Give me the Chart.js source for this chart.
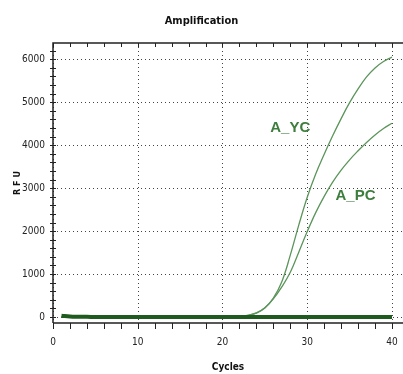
<!DOCTYPE html>
<html lang="en">
<head>
  <meta charset="UTF-8">
  <title>Amplification</title>
  <script src="https://cdn.jsdelivr.net/npm/chart.js"></script>
  <style>
    html, body { margin: 0; padding: 0; background: #fff; }
    .wrap { width: 403px; height: 374px; position: relative; }
  </style>
</head>
<body>
  <div class="wrap"><canvas id="amp" width="403" height="374"></canvas></div>
  <script>
    // cycles 1..40
    const cycles = Array.from({length: 40}, (_, i) => i + 1);
    const ycValues = [5, 4, 4, 3, 3, 3, 3, 3, 3, 3, 3, 3, 3, 3, 3, 3, 4, 5, 6, 8,
      10, 15, 40, 90, 210, 440, 820, 1440, 2140, 2790, 3330, 3790, 4220, 4620, 4990, 5310, 5590, 5800, 5950, 6050];
    const pcValues = [5, 4, 4, 3, 3, 3, 3, 3, 3, 3, 3, 3, 3, 3, 3, 3, 4, 5, 6, 8,
      10, 15, 40, 95, 215, 420, 700, 1040, 1510, 1990, 2430, 2810, 3140, 3420, 3660, 3870, 4065, 4240, 4390, 4510];
    const baseValues = [30, 12, 6, 3, 0, 0, 0, 0, 0, 0, 0, 0, 0, 0, 0, 0, 0, 0, 0, 0,
      0, 0, 0, 0, 0, 0, 0, 0, 0, 0, 0, 0, 0, 0, 0, 0, 0, 0, 0, 0];
    const xTicks = [0, 10, 20, 30, 40];
    const yTicks = [0, 1000, 2000, 3000, 4000, 5000, 6000];
    const labels = [
      {text: 'A_YC', x: 28.0, y: 4400},
      {text: 'A_PC', x: 35.7, y: 2820}
    ];

    const narrow = "'DejaVu Sans Condensed', 'Liberation Sans Narrow', Arial, sans-serif";

    const frame = {
      id: 'frame',
      beforeDatasetsDraw(chart) {
        const {ctx, chartArea: a, scales: {x, y}} = chart;
        ctx.save();
        ctx.strokeStyle = '#444';
        ctx.lineWidth = 1;
        ctx.setLineDash([1, 3]);
        xTicks.forEach(v => {
          const px = Math.round(x.getPixelForValue(v)) + 0.5;
          ctx.beginPath(); ctx.moveTo(px, a.top); ctx.lineTo(px, a.bottom); ctx.stroke();
        });
        yTicks.forEach(v => {
          const py = Math.round(y.getPixelForValue(v)) + 0.5;
          ctx.beginPath(); ctx.moveTo(a.left, py); ctx.lineTo(a.right, py); ctx.stroke();
        });
        ctx.setLineDash([]);
        ctx.strokeStyle = '#222';
        ctx.lineWidth = 1.5;
        ctx.beginPath();
        ctx.moveTo(a.left, a.bottom); ctx.lineTo(a.left, a.top); ctx.lineTo(a.right, a.top);
        ctx.moveTo(a.left, a.bottom); ctx.lineTo(a.right, a.bottom);
        ctx.stroke();
        ctx.lineWidth = 1;
        for (let v = 0; v <= 40; v += 2) {
          const px = Math.round(x.getPixelForValue(v)) + 0.5;
          ctx.beginPath(); ctx.moveTo(px, a.bottom); ctx.lineTo(px, a.bottom + 6); ctx.stroke();
          ctx.beginPath(); ctx.moveTo(px, a.top); ctx.lineTo(px, a.top + 4); ctx.stroke();
        }
        for (let v = 0; v <= 6200; v += 200) {
          const py = Math.round(y.getPixelForValue(v)) + 0.5;
          ctx.beginPath(); ctx.moveTo(a.left - 3, py); ctx.lineTo(a.left + 3, py); ctx.stroke();
        }
        ctx.restore();
      },
      afterDatasetsDraw(chart) {
        const {ctx, scales: {x, y}} = chart;
        ctx.save();
        ctx.fillStyle = '#3d7d3d';
        ctx.font = 'bold 15px Arial, sans-serif';
        ctx.textAlign = 'center';
        ctx.textBaseline = 'middle';
        labels.forEach(l => ctx.fillText(l.text, x.getPixelForValue(l.x), y.getPixelForValue(l.y)));
        ctx.restore();
      }
    };

    new Chart(document.getElementById('amp'), {
      type: 'line',
      data: {
        datasets: [
          {label: 'baseline', data: cycles.map((c, i) => ({x: c, y: baseValues[i]})), borderColor: '#1f5a1f', borderWidth: 4},
          {label: 'A_YC', data: cycles.map((c, i) => ({x: c, y: ycValues[i]})), borderColor: '#5b955b', borderWidth: 1.3},
          {label: 'A_PC', data: cycles.map((c, i) => ({x: c, y: pcValues[i]})), borderColor: '#5b955b', borderWidth: 1.3}
        ]
      },
      options: {
        responsive: false,
        animation: false,
        devicePixelRatio: 1,
        layout: {padding: {left: 0, right: 0, top: 0, bottom: 0}},
        elements: {point: {radius: 0}, line: {tension: 0.4}},
        plugins: {
          legend: {display: false},
          tooltip: {enabled: false},
          title: {
            display: true, text: 'Amplification', color: '#111',
            font: {family: narrow, size: 11, weight: 'bold'},
            padding: {top: 15, bottom: 14.8}
          }
        },
        scales: {
          x: {
            type: 'linear', min: 0, max: 41.3,
            grid: {display: false},
            border: {display: false},
            afterFit(s) { s.height = 51; s.paddingLeft = 0; s.paddingRight = 0; },
            afterBuildTicks(s) { s.ticks = xTicks.map(v => ({value: v})); },
            ticks: {color: '#222', font: {family: narrow, size: 10}, padding: 5, maxRotation: 0,
              callback: v => String(v)},
            title: {display: true, text: 'Cycles', color: '#111', font: {family: narrow, size: 10, weight: 'bold'}, padding: {top: 0, bottom: 1}}
          },
          y: {
            min: -140, max: 6380,
            grid: {display: false},
            border: {display: false},
            afterFit(s) { s.width = 53; s.paddingTop = 0; s.paddingBottom = 0; },
            afterBuildTicks(s) { s.ticks = yTicks.map(v => ({value: v})); },
            ticks: {color: '#222', font: {family: narrow, size: 10}, padding: 0,
              callback: v => String(v)},
            title: {display: true, text: 'R F U', color: '#111', font: {family: narrow, size: 9, weight: 'bold'}, padding: {top: 12, bottom: 0}}
          }
        }
      },
      plugins: [frame]
    });
  </script>
</body>
</html>
